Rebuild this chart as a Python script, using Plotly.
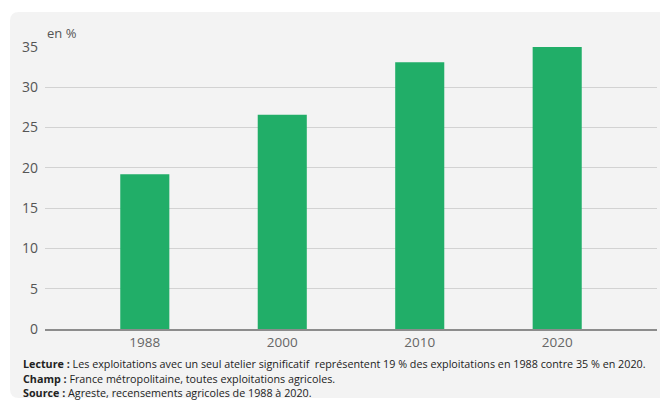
import plotly.graph_objects as go

years = ["1988", "2000", "2010", "2020"]
values = [19.2, 26.6, 33.1, 35.0]
y_ticks = [0, 5, 10, 15, 20, 25, 30, 35]
notes = [
    ("Lecture :", " Les exploitations avec un seul atelier significatif  représentent 19 % des exploitations en 1988 contre 35 % en 2020."),
    ("Champ :", " France métropolitaine, toutes exploitations agricoles."),
    ("Source :", " Agreste, recensements agricoles de 1988 à 2020."),
]

W, H = 660, 401
ml, mr, mt, mb = 45, 3, 47, 72
pw, ph = W - ml - mr, H - mt - mb

def px_x(x):
    return (x - ml) / pw

def px_y(y):
    return (H - mb - y) / ph

fig = go.Figure()
fig.add_trace(go.Bar(
    x=list(range(len(years))), y=values,
    marker=dict(color="#21AE68", line=dict(width=0)),
    width=0.357, hoverinfo="skip",
))

# rounded background panel
x0, x1, y0, y1, r = 10, 668, 12, 398, 9
def P(x, y):
    return f"{px_x(x):.5f},{px_y(y):.5f}"
path = (f"M {P(x0 + r, y0)} L {P(x1 - r, y0)} Q {P(x1, y0)} {P(x1, y0 + r)} "
        f"L {P(x1, y1 - r)} Q {P(x1, y1)} {P(x1 - r, y1)} "
        f"L {P(x0 + r, y1)} Q {P(x0, y1)} {P(x0, y1 - r)} "
        f"L {P(x0, y0 + r)} Q {P(x0, y0)} {P(x0 + r, y0)} Z")
fig.add_shape(type="path", path=path, xref="paper", yref="paper",
              fillcolor="#F3F3F3", line=dict(width=0), layer="below")

fig.add_annotation(text="en %", x=px_x(45), y=px_y(33), xref="paper", yref="paper",
                   xanchor="left", yanchor="middle", showarrow=False,
                   font=dict(family="Open Sans", size=13, color="#555555"))

for i, (b, t) in enumerate(notes):
    fig.add_annotation(text=f"<b>{b}</b>{t}", x=px_x(21), y=px_y(364 + i * 14.6),
                       xref="paper", yref="paper", xanchor="left", yanchor="middle",
                       showarrow=False, align="left",
                       font=dict(family="Open Sans", size=10.75, color="#222222"))

fig.update_layout(
    width=W, height=H,
    margin=dict(l=ml, r=mr, t=mt, b=mb),
    paper_bgcolor="white", plot_bgcolor="rgba(0,0,0,0)",
    showlegend=False,
    xaxis=dict(range=[-0.726, 3.726], tickmode="array",
               tickvals=list(range(len(years))), ticktext=years,
               showgrid=False, zeroline=False, showline=True,
               linecolor="#8C8C8C", linewidth=1.5, ticks="",
               tickfont=dict(family="Open Sans", size=13.5, color="#666666")),
    yaxis=dict(range=[0, 35], tickvals=y_ticks, showgrid=True,
               gridcolor="#D2D2D2", gridwidth=1.3, zeroline=False,
               showline=False, ticks="", ticklabelstandoff=6,
               tickfont=dict(family="Open Sans", size=14, color="#555555")),
)

fig.write_html("out.html")
